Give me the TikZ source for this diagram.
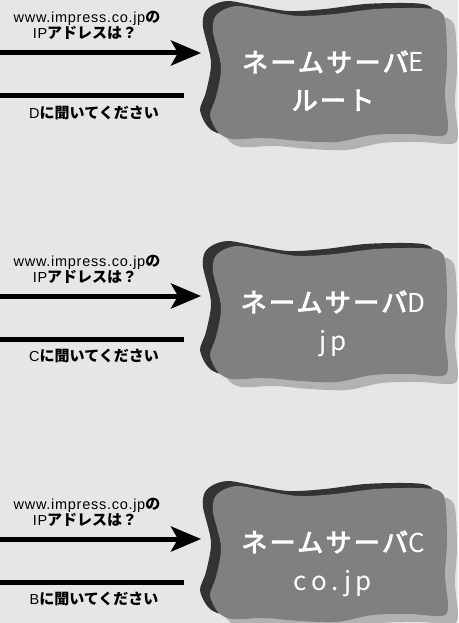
\documentclass[tikz,border=0pt]{standalone}
\usepackage{fontspec}
\usetikzlibrary{arrows.meta}
\newfontfamily\latf{Liberation Sans}[LetterSpace=5]
\newfontfamily\jpf{Noto Sans CJK JP}
\newfontfamily\jpmed{Noto Sans CJK JP}[FakeBold=3.5,LetterSpace=9]
\newfontfamily\jpwide{Noto Sans CJK JP}[LetterSpace=18]
\definecolor{bg}{HTML}{E6E6E6}
\definecolor{cloudgrey}{HTML}{808080}
\definecolor{clouddark}{HTML}{333333}
\definecolor{cloudlight}{HTML}{B2B2B2}
\begin{document}
\begin{tikzpicture}[x=1pt,y=-1pt,
  cloudshape/.pic={\path[pic actions] plot[smooth cycle,tension=0.5] coordinates {(215,17) (225,9) (239,6) (262,10) (298,16) (335,14) (375,9) (415,8) (437,10) (445,20) (447,60) (445,95) (448,127) (442,136) (410,134) (372,135) (337,142) (300,141) (265,138) (232,139) (218,132) (210,115) (216,97) (221,67) (213,32)};},
  srvtext/.style={text=white,font=\jpf\fontsize{26}{26}\selectfont,anchor=base,inner sep=0pt},
  ask/.style={text=black,font=\fontsize{15}{16}\selectfont,anchor=base,inner sep=0pt},
  wire/.style={line width=5pt,draw=black}
]
\path[use as bounding box,fill=bg] (0,0) rectangle (458,623);
\foreach \i/\srv/\nxt/\zone in {0/E/D/{\jpmed ルート},1/D/C/{\jpwide jp},2/C/B/{\jpwide co.jp}}{
  \begin{scope}[shift={(0,240*\i)}]
    \pic[fill=cloudlight] at (10,8) {cloudshape};
    \pic[fill=clouddark] at (-10,-5) {cloudshape};
    \pic[fill=cloudgrey] at (0,0) {cloudshape};
    \node[srvtext] (srv\i) at (333,72) {{\jpmed ネームサーバ}\srv};
    \node[srvtext] (zone\i) at (333,110) {\zone};
  \end{scope}
  \node[ask] (qa\i) at (87,23+243*\i) {{\latf\fontsize{14.5}{16}\selectfont www.impress.co.jp}{\jpf\bfseries の}};
  \node[ask] (qb\i) at (85,39+243*\i) {{\latf\fontsize{14.5}{16}\selectfont IP}{\jpf\bfseries アドレスは？}};
  \node[ask] (ans\i) at (94,118+243*\i) {{\latf\fontsize{14.5}{16}\selectfont \nxt}{\jpf\bfseries に聞いてください}};
  \coordinate (in\i) at (0,53+243*\i);
  \coordinate (tip\i) at (201,53+243*\i);
  \coordinate (rs\i) at (184,96+243*\i);
  \coordinate (re\i) at (0,96+243*\i);
  \draw[wire,-{Stealth[length=30pt,width=25pt,inset=7pt]}] (in\i) -- (tip\i);
  \draw[wire] (rs\i) -- (re\i);
}
\end{tikzpicture}
\end{document}
